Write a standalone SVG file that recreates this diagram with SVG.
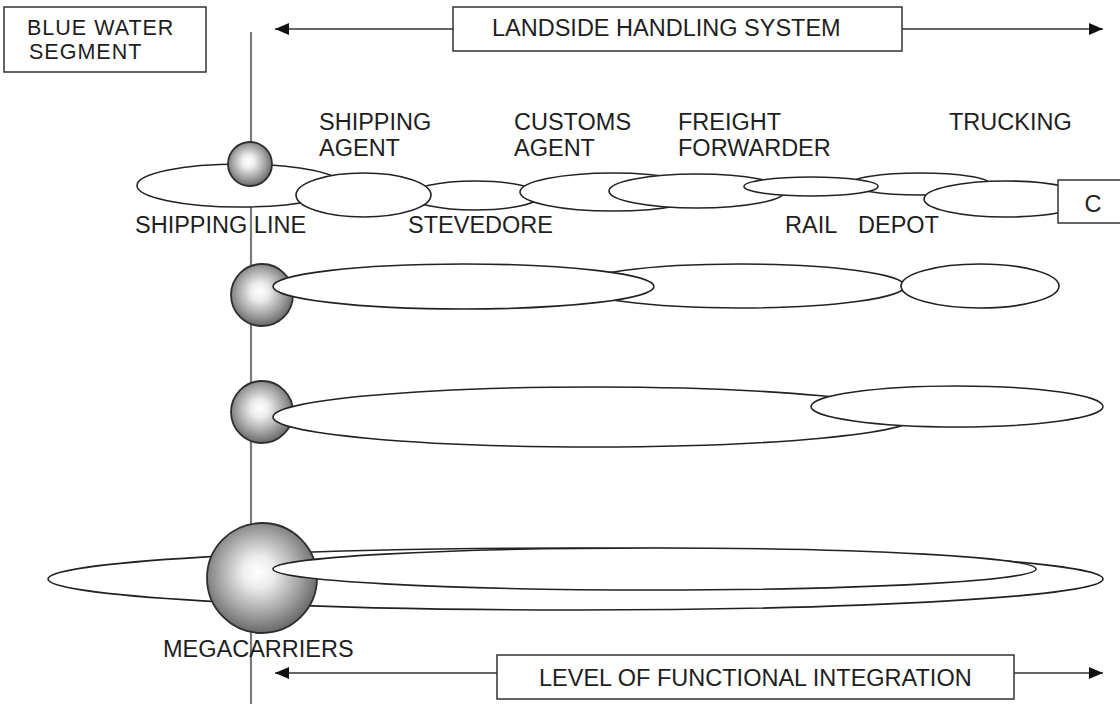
<svg xmlns="http://www.w3.org/2000/svg" width="1120" height="704" viewBox="0 0 1120 704">
<style>
text{font-family:"Liberation Sans",Arial,sans-serif;font-size:23.5px;fill:#1e1e1e}
.tight{font-size:21.5px;letter-spacing:1px}
.box{fill:#fff;stroke:#333;stroke-width:1.5}
.ell{fill:#fff;stroke:#222;stroke-width:1.6}
.sph{fill:url(#sg);stroke:#2e2e2e;stroke-width:1.8}
.arr{stroke:#333;stroke-width:1.5;fill:none}
.axis{stroke:#7a7a7a;stroke-width:2.2}
</style>
<defs>
<radialGradient id="sg" cx="0.48" cy="0.46" r="0.58" fx="0.46" fy="0.44">
<stop offset="0" stop-color="#ffffff"/>
<stop offset="0.25" stop-color="#ececec"/>
<stop offset="0.65" stop-color="#a2a2a2"/>
<stop offset="1" stop-color="#5c5c5c"/>
</radialGradient>
<marker id="ah" viewBox="0 0 14 12" refX="14" refY="6" markerWidth="14" markerHeight="12" markerUnits="userSpaceOnUse" orient="auto">
<path d="M0,0 L14,6 L0,12 Z" fill="#111"/>
</marker>
</defs>
<rect width="1120" height="704" fill="#fff"/>
<line id="axis" class="axis" x1="251" y1="32" x2="251" y2="704"/>

<g id="blue-water">
<rect class="box" x="4" y="7" width="202" height="65"/>
<text class="tight" x="27" y="35">BLUE WATER</text>
<text class="tight" x="29" y="59">SEGMENT</text>
</g>
<g id="landside">
<rect class="box" x="453" y="7" width="449" height="44"/>
<text x="492" y="36">LANDSIDE HANDLING SYSTEM</text>
</g>
<g id="level">
<rect class="box" x="497" y="655" width="517" height="44"/>
<text x="539" y="686">LEVEL OF FUNCTIONAL INTEGRATION</text>
</g>

<g id="connectors">
<line class="arr" x1="453" y1="29" x2="275" y2="29" marker-end="url(#ah)"/>
<line class="arr" x1="902" y1="29" x2="1103" y2="29" marker-end="url(#ah)"/>
<line class="arr" x1="497" y1="673" x2="275" y2="673" marker-end="url(#ah)"/>
<line class="arr" x1="1014" y1="673" x2="1103" y2="673" marker-end="url(#ah)"/>
</g>

<g id="row1">
<g id="shipping-line"><ellipse class="ell" cx="240" cy="185.5" rx="103" ry="21.5"/><text x="135" y="233">SHIPPING LINE</text></g>
<g id="shipping-line-sphere"><circle class="sph" cx="250" cy="164" r="22"/></g>
<g id="stevedore"><ellipse class="ell" cx="475" cy="195.5" rx="65" ry="14.5"/><text x="408" y="233">STEVEDORE</text></g>
<g id="shipping-agent"><ellipse class="ell" cx="363.5" cy="195" rx="67.5" ry="22"/><text x="319" y="130">SHIPPING</text><text x="319" y="156">AGENT</text></g>
<g id="customs-agent"><ellipse class="ell" cx="613" cy="192" rx="93" ry="19"/><text x="514" y="130">CUSTOMS</text><text x="514" y="156">AGENT</text></g>
<g id="freight-forwarder"><ellipse class="ell" cx="697" cy="191" rx="88" ry="17"/><text x="678" y="130">FREIGHT</text><text x="678" y="156">FORWARDER</text></g>
<g id="depot"><ellipse class="ell" cx="920" cy="184" rx="70" ry="11"/><text x="858" y="233">DEPOT</text></g>
<g id="rail"><ellipse class="ell" cx="811" cy="186.5" rx="67" ry="9.5"/><text x="785" y="233">RAIL</text></g>
<g id="trucking"><ellipse class="ell" cx="1006" cy="199" rx="82" ry="18"/><text x="949" y="130">TRUCKING</text></g>
<g id="c-box"><rect class="box" x="1058" y="180" width="70" height="43"/><text x="1093" y="212" text-anchor="middle">C</text></g>
</g>

<g id="row2">
<ellipse class="ell" cx="740" cy="286" rx="165" ry="22"/>
<ellipse class="ell" cx="980" cy="286" rx="79" ry="22"/>
<circle class="sph" cx="262" cy="295" r="31"/>
<ellipse class="ell" cx="463.5" cy="286.5" rx="190.5" ry="22.5"/>
</g>

<g id="row3">
<circle class="sph" cx="262" cy="412" r="31"/>
<ellipse class="ell" cx="594" cy="417" rx="321" ry="30"/>
<ellipse class="ell" cx="957" cy="406.5" rx="146" ry="20.5"/>
</g>

<g id="megacarriers">
<ellipse class="ell" cx="575.5" cy="579" rx="527.5" ry="31"/>
<circle class="sph" cx="262" cy="578" r="55"/>
<ellipse class="ell" cx="654.5" cy="569" rx="381.5" ry="21"/>
<text x="163" y="657">MEGACARRIERS</text>
</g>
</svg>
